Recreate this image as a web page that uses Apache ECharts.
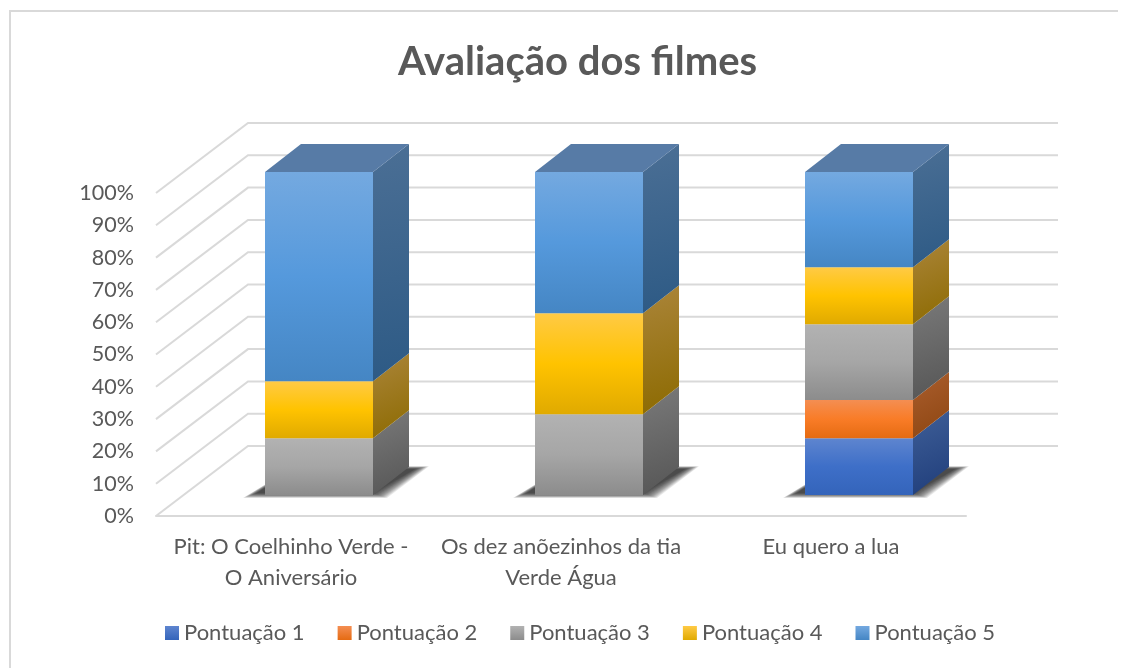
<!DOCTYPE html>
<html>
<head>
<meta charset="utf-8">
<title>Avaliação dos filmes</title>
<script src="https://cdn.jsdelivr.net/npm/echarts@6/dist/echarts.min.js"></script>
<style>
  html, body { margin: 0; padding: 0; background: #fff; }
  #chart { width: 1131px; height: 668px; }
</style>
</head>
<body>
<div id="chart"></div>
<script>
const categories = ['Pit: O Coelhinho Verde -\nO Aniversário', 'Os dez anõezinhos da tia\nVerde Água', 'Eu quero a lua'];
const yTicks = [0, 10, 20, 30, 40, 50, 60, 70, 80, 90, 100];

// percent of each film's votes
const pontuacao1 = [0, 0, 17.6];
const pontuacao2 = [0, 0, 11.8];
const pontuacao3 = [17.6, 25, 23.5];
const pontuacao4 = [17.6, 31.3, 17.6];
const pontuacao5 = [64.8, 43.7, 29.5];

const seriesNames = ['Pontuação 1', 'Pontuação 2', 'Pontuação 3', 'Pontuação 4', 'Pontuação 5'];
const seriesValues = [pontuacao1, pontuacao2, pontuacao3, pontuacao4, pontuacao5];

// front gradient (top, middle, bottom) and side gradient (light, dark)
const palette = [
  { front: ['#5e85cf', '#3e6fc8', '#3464ba'], side: ['#3f5f98', '#1f3d7a'], legend: ['#5e85cf', '#3464ba'] },
  { front: ['#f48e52', '#f97c27', '#e56b12'], side: ['#ab5e2e', '#8c4510'], legend: ['#f48e52', '#e56b12'] },
  { front: ['#b2b2b2', '#a6a6a6', '#8c8c8c'], side: ['#7a7a7a', '#555555'], legend: ['#b2b2b2', '#8c8c8c'] },
  { front: ['#ffca45', '#ffc300', '#e0aa00'], side: ['#ab853a', '#8c6a00'], legend: ['#ffca45', '#e0aa00'] },
  { front: ['#74a9e0', '#5599dc', '#4586c4'], side: ['#4b6f95', '#2d5a85'], legend: ['#74a9e0', '#4586c4'] }
];
const topColor = '#577ba6';

// 3D look: how far the walls and the bars are pushed back on screen
const wallDx = 92, wallDy = 70;
const barNearDx = 28, barNearDy = 21;
const barDepthDx = 36, barDepthDy = 28;
const barWidth = 108;
const gridColor = '#d9d9d9';
const textColor = '#595959';
const font = 'Lato';

function vGrad(colors) {
  return {
    type: 'linear', x: 0, y: 0, x2: 0, y2: 1,
    colorStops: colors.map((c, i) => ({ offset: i / (colors.length - 1), color: c }))
  };
}

function sideGrad(colors) {
  return {
    type: 'linear', x: 0, y: 0, x2: 1, y2: 1,
    colorStops: [{ offset: 0, color: colors[0] }, { offset: 1, color: colors[1] }]
  };
}

// walls: one diagonal plus one back line per tick
function renderWall(params, api) {
  const cs = params.coordSys;
  const y = api.coord([0, api.value(0)])[1];
  return {
    type: 'polyline',
    shape: { points: [[cs.x, y], [cs.x + wallDx, y - wallDy], [cs.x + cs.width + wallDx, y - wallDy]] },
    style: { stroke: gridColor, lineWidth: 2, fill: null }
  };
}

// soft floor shadow, stacked see-through polygons instead of a blur
function renderShadow(params, api) {
  const p = api.coord([api.value(0), 0]);
  const x0 = p[0] + barNearDx - barWidth / 2;
  const y0 = p[1] - barNearDy;
  const children = [];
  for (let e = 14; e >= 0; e--) {
    children.push({
      type: 'polygon',
      shape: { points: [
        [x0 - 8 - e, y0 - 2 + e * 0.35],
        [x0 + barWidth + e, y0 - 2 + e * 0.35],
        [x0 + barWidth + 42 + e, y0 - barDepthDy + 2 - e * 0.2],
        [x0 + 30, y0 - barDepthDy + 2 - e * 0.2]
      ] },
      style: { fill: 'rgba(20,20,20,0.09)' }
    });
  }
  return { type: 'group', children: children };
}

function makeRenderBar(serIdx) {
  const isLast = serIdx === seriesNames.length - 1;
  return function (params, api) {
    const cat = api.value(0);
    const low = api.value(1);
    const high = api.value(2);
    if (high <= low) return null;
    const pLow = api.coord([cat, low]);
    const pHigh = api.coord([cat, high]);
    const xl = pLow[0] + barNearDx - barWidth / 2;
    const xr = xl + barWidth;
    const yb = pLow[1] - barNearDy;
    const yt = pHigh[1] - barNearDy;
    const children = [
      {
        type: 'polygon',
        shape: { points: [[xr, yb], [xr + barDepthDx, yb - barDepthDy], [xr + barDepthDx, yt - barDepthDy], [xr, yt]] },
        style: { fill: sideGrad(palette[serIdx].side) }
      },
      {
        type: 'rect',
        shape: { x: xl, y: yt, width: barWidth, height: yb - yt },
        style: { fill: vGrad(palette[serIdx].front) }
      }
    ];
    if (isLast) {
      children.push({
        type: 'polygon',
        shape: { points: [[xl, yt], [xr, yt], [xr + barDepthDx, yt - barDepthDy], [xl + barDepthDx, yt - barDepthDy]] },
        style: { fill: topColor }
      });
    }
    return { type: 'group', children: children };
  };
}

// stack by hand, the custom series does not do it
const running = categories.map(() => 0);
const barSeries = seriesNames.map((name, s) => {
  const data = categories.map((c, i) => {
    const low = running[i];
    running[i] += seriesValues[s][i];
    return [i, low, running[i]];
  });
  return {
    name: name,
    type: 'custom',
    z: 5,
    encode: { x: 0, y: [1, 2] },
    itemStyle: { color: vGrad(palette[s].legend) },
    renderItem: makeRenderBar(s),
    data: data
  };
});

const chart = echarts.init(document.getElementById('chart'), null, { renderer: 'canvas' });
chart.setOption({
  animation: false,
  backgroundColor: '#fff',
  title: {
    text: 'Avaliação dos filmes',
    left: 393,
    top: 37,
    textStyle: { color: textColor, fontFamily: font, fontWeight: 'bold', fontSize: 40 }
  },
  graphic: [{
    type: 'polyline',
    silent: true,
    shape: { points: [[10, 668], [10, 11], [1118, 11]] },
    style: { fill: null, stroke: '#d9d9d9', lineWidth: 2 }
  }],
  legend: {
    left: 160,
    top: 617,
    icon: 'rect',
    itemWidth: 14,
    itemHeight: 14,
    itemGap: 33,
    data: seriesNames,
    textStyle: { color: textColor, fontFamily: font, fontSize: 22 }
  },
  grid: { left: 156, right: 165, top: 193, bottom: 152 },
  xAxis: {
    type: 'category',
    data: categories,
    axisLine: { show: true, lineStyle: { color: gridColor, width: 2 } },
    axisTick: { show: false },
    axisLabel: { color: textColor, fontFamily: font, fontSize: 22, margin: 15, lineHeight: 31, interval: 0 }
  },
  yAxis: {
    type: 'value',
    min: 0,
    max: 100,
    interval: 10,
    axisLine: { show: false },
    axisTick: { show: false },
    splitLine: { show: false },
    axisLabel: { color: textColor, fontFamily: font, fontSize: 21.5, margin: 22, padding: [2, 0, 0, 0], formatter: '{value}%' }
  },
  series: [
    { type: 'custom', z: 1, silent: true, renderItem: renderWall, encode: { y: 0 }, data: yTicks.map(v => [v]) },
    { type: 'custom', z: 2, silent: true, renderItem: renderShadow, encode: { x: 0 }, data: categories.map((c, i) => [i]) }
  ].concat(barSeries)
});
</script>
</body>
</html>
